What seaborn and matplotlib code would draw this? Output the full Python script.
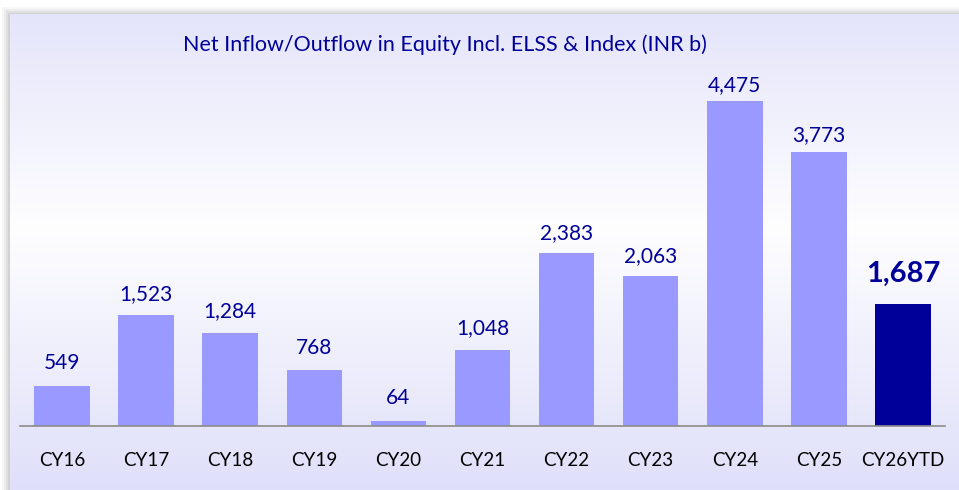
import numpy as np
import pandas as pd
import matplotlib
matplotlib.use("Agg")
import matplotlib.pyplot as plt
import seaborn as sns
from matplotlib.patches import Rectangle

# Chart data
years = ["CY16", "CY17", "CY18", "CY19", "CY20", "CY21", "CY22", "CY23", "CY24", "CY25", "CY26YTD"]
flows = [549, 1523, 1284, 768, 64, 1048, 2383, 2063, 4475, 3773, 1687]
title = "Net Inflow/Outflow in Equity Incl. ELSS & Index (INR b)"

df = pd.DataFrame({"year": years, "flow": flows})

sns.set_style("white")
plt.rcParams["font.family"] = ["Lato", "DejaVu Sans"]

light = "#9999FF"
dark = "#000099"
palette = [light] * (len(years) - 1) + [dark]

W, H = 959, 490
fig = plt.figure(figsize=(W / 100, H / 100), dpi=100)
fig.patch.set_facecolor("white")

# background panel with soft shadow and vertical gradient
bg = fig.add_axes([0, 0, 1, 1])
bg.set_xlim(0, W)
bg.set_ylim(H, 0)
bg.axis("off")
for i, a in enumerate([0.03, 0.04, 0.05, 0.06]):
    pad = 8 - 2 * i
    bg.add_patch(Rectangle((10 - pad, 15 - pad), W, H, color="#000000", alpha=a, lw=0))
top_c = np.array([0.875, 0.875, 0.98])
mid_c = np.array([0.995, 0.995, 1.0])
t = np.linspace(0, 1, 256)
w = np.abs(t - 0.45) / 0.55
grad = (1 - w)[:, None] * mid_c + w[:, None] * top_c
bg.imshow(grad[:, None, :], extent=(10, W, H, 15), aspect="auto", zorder=2)

ax = fig.add_axes([20 / W, 1 - 426 / H, 925 / W, 366 / H])
ax.patch.set_alpha(0)
sns.barplot(data=df, x="year", y="flow", hue="year", palette=palette,
            legend=False, width=0.66, saturation=1, linewidth=0, ax=ax)
ax.set_xlim(-0.5, len(years) - 0.5)
ax.set_ylim(0, 5041)
ax.set_yticks([])
ax.set_xlabel("")
ax.set_ylabel("")
for s in ["top", "right", "left"]:
    ax.spines[s].set_visible(False)
ax.spines["bottom"].set_color("#8c8c8c")
ax.spines["bottom"].set_linewidth(1.2)
ax.tick_params(axis="x", length=0, pad=19, labelsize=13.5, colors="black")

# value labels: gap above the bar narrows a little for the tall bars
for i, v in enumerate(flows):
    last = i == len(flows) - 1
    gap = 230 if last else 190 - 0.025 * v
    ax.text(i, v + gap, f"{v:,}", ha="center", va="bottom",
            color=dark, fontsize=21 if last else 15,
            fontweight="bold" if last else "normal")

fig.text(445 / W, 1 - 45 / H, title, ha="center", va="center",
         color=dark, fontsize=15.5)

fig.savefig("out.png", dpi=100)
